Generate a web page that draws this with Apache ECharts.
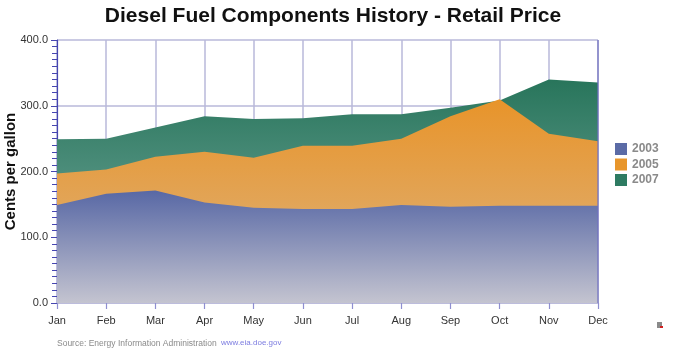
<!DOCTYPE html>
<html>
<head>
<meta charset="utf-8">
<script src="https://cdn.jsdelivr.net/npm/echarts@6/dist/echarts.min.js"></script>
<style>
html,body{margin:0;padding:0;background:#fff;}
#chart{width:674px;height:357px;}
</style>
</head>
<body>
<div id="chart"></div>
<script>
const months = ['Jan','Feb','Mar','Apr','May','Jun','Jul','Aug','Sep','Oct','Nov','Dec'];
const y2003 = [149, 166, 171, 153, 145, 143, 143, 149, 146.5, 148, 148, 148];
const y2005 = [197, 203, 222.5, 230, 221, 239, 239, 250, 284, 310, 257.5, 246];
const y2007 = [249, 250, 267, 284, 280, 281, 287, 287, 297, 308, 340, 335.5];
const yTicks = [0, 100, 200, 300, 400];

const chart = echarts.init(document.getElementById('chart'));
function grad(stops){
  return new echarts.graphic.LinearGradient(0,0,0,1, stops.map(s=>({offset:s[0],color:s[1]})));
}
const gridColor = '#b8b8da';
chart.setOption({
  animation:false,
  title:{
    text:'Diesel Fuel Components History - Retail Price',
    left:333, textAlign:'center', top:6, padding:0,
    textStyle:{fontFamily:'Liberation Sans, Arial', fontSize:21, fontWeight:'bold', color:'#111'}
  },
  legend:{
    orient:'vertical', left:615, top:143, padding:0,
    data:['2003','2005','2007'],
    icon:'rect', itemWidth:12, itemHeight:12, itemGap:3.5,
    textStyle:{fontFamily:'Liberation Sans, Arial', fontSize:12, fontWeight:'bold', color:'#8a8a8a'}
  },
  grid:{left:57, right:76, top:40, bottom:54, containLabel:false, outerBoundsMode:'none'},
  xAxis:{
    type:'category', data:months, boundaryGap:false,
    axisLine:{show:true, lineStyle:{color:gridColor, width:1.5}},
    axisTick:{show:true, alignWithLabel:true, length:6, lineStyle:{color:'#8f8fd0', width:1.2}},
    axisLabel:{fontFamily:'Liberation Sans, Arial', fontSize:11, color:'#333', margin:12},
    splitLine:{show:true, lineStyle:{color:gridColor, width:1.5}}
  },
  yAxis:{
    type:'value', min:yTicks[0], max:yTicks[yTicks.length-1], interval:100,
    name:'Cents per gallon', nameLocation:'middle', nameGap:39, nameRotate:90, nameMoveOverlap:false,
    nameTextStyle:{fontFamily:'Liberation Sans, Arial', fontSize:15, fontWeight:'bold', color:'#111'},
    axisLine:{show:true, lineStyle:{color:'#4646b0', width:1.2}},
    axisTick:{show:true, length:6, lineStyle:{color:'#4646b0', width:1}},
    minorTick:{show:true, splitNumber:10, length:5, lineStyle:{color:'#4646b0', width:1}},
    axisLabel:{fontFamily:'Liberation Sans, Arial', fontSize:11, color:'#333', margin:9,
      formatter:v=>v.toFixed(1)},
    splitLine:{show:true, lineStyle:{color:gridColor, width:1.5}}
  },
  graphic:[
    {type:'line', shape:{x1:598, y1:40, x2:598, y2:303}, style:{stroke:'#7070c0', lineWidth:1.2}, z:100},
    {type:'text', left:57, top:339, style:{text:'Source: Energy Information Administration', fontFamily:'Liberation Sans, Arial', fontSize:8.5, fill:'#8a8a8a'}},
    {type:'text', left:221, top:339, style:{text:'www.eia.doe.gov', fontFamily:'Liberation Sans, Arial', fontSize:8, fill:'#7c7ce0'}},
    {type:'rect', shape:{x:657, y:322, width:5, height:6}, style:{fill:'#8a8a8a'}},
    {type:'rect', shape:{x:660, y:326, width:3, height:2}, style:{fill:'#d02020'}}
  ],
  series:[
    {name:'2007', type:'line', data:y2007, symbol:'none', lineStyle:{width:0},
     itemStyle:{color:'#2e7b62'},
     areaStyle:{opacity:1, color:grad([[0,'#28755b'],[0.45,'#4f8f7d'],[1,'#9fc0b5']])}},
    {name:'2005', type:'line', data:y2005, symbol:'none', lineStyle:{width:0},
     itemStyle:{color:'#e8962c'},
     areaStyle:{opacity:1, color:grad([[0,'#e8942a'],[0.5,'#e2a456'],[1,'#d8bc90']])}},
    {name:'2003', type:'line', data:y2003, symbol:'none', lineStyle:{width:0},
     itemStyle:{color:'#5b6ba6'},
     areaStyle:{opacity:1, color:grad([[0,'#5868a5'],[1,'#c4c4d0']])}}
  ]
});
</script>
</body>
</html>
